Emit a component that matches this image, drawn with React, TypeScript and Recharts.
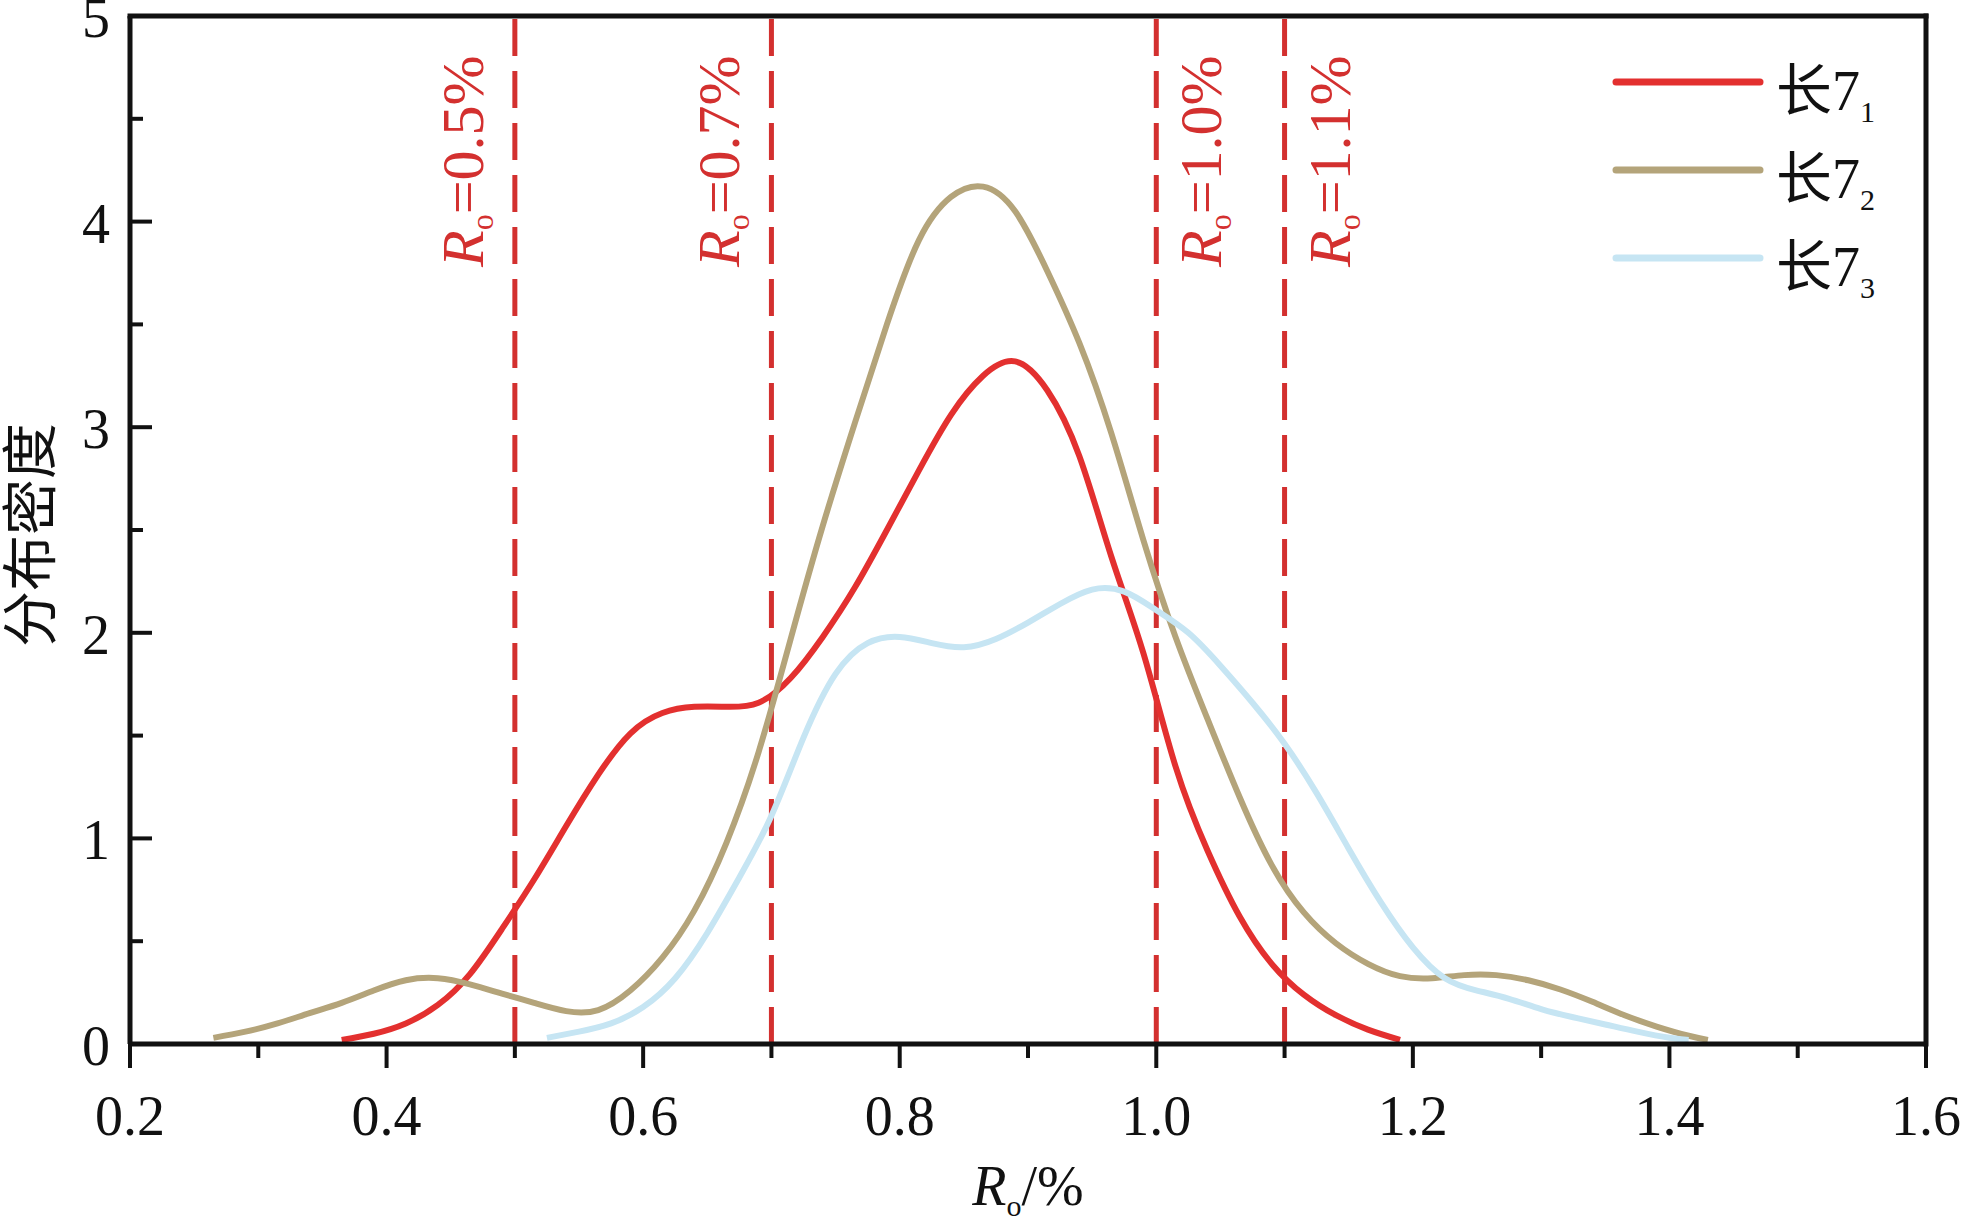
import { Legend, Line, LineChart, ReferenceLine, XAxis, YAxis } from "recharts";

// 长7 sub-member Ro kernel density curves at even Ro steps
const chang71: [number, number][] = [
  [0.365, 0.02], [0.39, 0.05], [0.415, 0.1], [0.44, 0.19], [0.465, 0.34], [0.49, 0.56],
  [0.515, 0.8], [0.54, 1.06], [0.565, 1.31], [0.59, 1.51], [0.615, 1.61], [0.64, 1.64],
  [0.665, 1.64], [0.69, 1.66], [0.715, 1.78], [0.74, 1.98], [0.765, 2.22], [0.79, 2.5],
  [0.815, 2.79], [0.84, 3.06], [0.865, 3.25], [0.89, 3.32], [0.915, 3.18], [0.94, 2.86],
  [0.965, 2.37], [0.99, 1.9], [1.015, 1.35], [1.04, 0.94], [1.065, 0.62], [1.09, 0.39],
  [1.115, 0.24], [1.14, 0.14], [1.165, 0.07], [1.19, 0.02],
];
const chang72: [number, number][] = [
  [0.265, 0.03], [0.29, 0.06], [0.315, 0.1], [0.34, 0.15], [0.365, 0.2], [0.39, 0.26],
  [0.415, 0.31], [0.44, 0.32], [0.465, 0.29], [0.49, 0.245], [0.515, 0.2], [0.54, 0.16],
  [0.565, 0.165], [0.59, 0.26], [0.615, 0.42], [0.64, 0.65], [0.665, 0.98], [0.69, 1.42],
  [0.715, 1.97], [0.74, 2.52], [0.765, 3.02], [0.79, 3.5], [0.815, 3.91], [0.84, 4.12],
  [0.865, 4.17], [0.89, 4.05], [0.915, 3.76], [0.94, 3.41], [0.965, 2.97], [0.99, 2.45],
  [1.015, 1.98], [1.04, 1.58], [1.065, 1.2], [1.09, 0.87], [1.115, 0.64], [1.14, 0.49],
  [1.165, 0.39], [1.19, 0.33], [1.215, 0.32], [1.24, 0.335], [1.265, 0.335], [1.29, 0.31],
  [1.315, 0.265], [1.34, 0.205], [1.365, 0.14], [1.39, 0.085], [1.415, 0.04], [1.43, 0.02],
];
const chang73: [number, number][] = [
  [0.525, 0.03], [0.55, 0.06], [0.575, 0.1], [0.6, 0.18], [0.625, 0.32], [0.65, 0.54],
  [0.675, 0.81], [0.7, 1.11], [0.725, 1.49], [0.75, 1.8], [0.775, 1.95], [0.8, 1.98],
  [0.825, 1.95], [0.85, 1.93], [0.875, 1.97], [0.9, 2.05], [0.925, 2.14], [0.95, 2.21],
  [0.975, 2.2], [1.0, 2.11], [1.025, 2.0], [1.05, 1.84], [1.075, 1.66], [1.1, 1.46],
  [1.125, 1.22], [1.15, 0.95], [1.175, 0.69], [1.2, 0.47], [1.225, 0.32], [1.25, 0.26],
  [1.275, 0.22], [1.3, 0.17], [1.325, 0.13], [1.35, 0.095], [1.375, 0.06], [1.4, 0.03],
  [1.415, 0.02],
];

const seriesMain = ["长7", "长7", "长7"];
const seriesSub = ["1", "2", "3"];
const seriesColors = ["#e3302f", "#b4a47a", "#c6e5f3"];

const xTicks = [0.2, 0.3, 0.4, 0.5, 0.6, 0.7, 0.8, 0.9, 1.0, 1.1, 1.2, 1.3, 1.4, 1.5, 1.6];
const xLabels = ["0.2", "0.4", "0.6", "0.8", "1.0", "1.2", "1.4", "1.6"];
const yTicks = [0, 0.5, 1, 1.5, 2, 2.5, 3, 3.5, 4, 4.5, 5];

const roValues = [0.5, 0.7, 1.0, 1.1];
const roTexts = ["0.5", "0.7", "1.0", "1.1"];
const roSide = [-1, -1, 1, 1];

const SERIF = "'Liberation Serif', 'Times New Roman', 'Noto Sans CJK SC', serif";
const INK = "#111";
const DASH_RED = "#d3302f";

const toPts = (arr: [number, number][]) => arr.map(([x, y]) => ({ x, y }));

function XTick({ x, y, payload }: any) {
  const v = payload.value as number;
  const label = xLabels.find((l) => Math.abs(parseFloat(l) - v) < 1e-6);
  return (
    <g>
      <line x1={x} y1={y} x2={x} y2={y + (label ? 24 : 14)} stroke={INK} strokeWidth={4} />
      {label && (
        <text x={x} y={y + 91} textAnchor="middle" fontFamily={SERIF} fontSize={56} fill={INK}>
          {label}
        </text>
      )}
    </g>
  );
}

function YTick({ x, y, payload }: any) {
  const v = payload.value as number;
  const major = Number.isInteger(v);
  return (
    <g>
      <line x1={x} y1={y} x2={x + (major ? 22 : 13)} y2={y} stroke={INK} strokeWidth={4} />
      {major && (
        <text x={x - 20} y={y + 21} textAnchor="end" fontFamily={SERIF} fontSize={56} fill={INK}>
          {v}
        </text>
      )}
    </g>
  );
}

function roLabel(i: number) {
  return (props: any) => {
    const vb = props.viewBox || {};
    const lx = (vb.x ?? 0) + (roSide[i] < 0 ? -32 : 65);
    const ly = (vb.y ?? 16) + 251;
    return (
      <text x={lx} y={ly} transform={`rotate(-90 ${lx} ${ly})`} fontFamily={SERIF}
            fontSize={60} fill={DASH_RED}>
        <tspan fontStyle="italic">R</tspan>
        <tspan fontSize={32} dy={10}>o</tspan>
        <tspan dy={-10}>{"=" + roTexts[i] + "%"}</tspan>
      </text>
    );
  };
}

function LegendBox({ payload }: any) {
  return (
    <svg width={340} height={300}>
      {(payload || []).map((p: any, i: number) => (
        <g key={i}>
          <line x1={16} x2={160} y1={42 + i * 88} y2={42 + i * 88} stroke={p.color}
                strokeWidth={7} strokeLinecap="round" />
          <text x={176} y={70 + i * 88} fontFamily={SERIF} fontSize={56} fill={INK}>
            {seriesMain[i]}
            <tspan fontSize={30} dy={12}>{seriesSub[i]}</tspan>
          </text>
        </g>
      ))}
    </svg>
  );
}

export default function App() {
  const series = [chang71, chang72, chang73];
  return (
    <div style={{ position: "absolute", left: 0, top: 0, width: 1963, height: 1223, background: "#fff" }}>
      <LineChart width={1963} height={1223} margin={{ top: 16, right: 37, bottom: 79, left: 30 }}>
        <XAxis type="number" dataKey="x" domain={[0.2, 1.6]} ticks={xTicks} interval={0}
               allowDataOverflow height={100} tickSize={0} tickMargin={0} tick={<XTick />}
               axisLine={{ stroke: INK, strokeWidth: 5 }} tickLine={false} />
        <YAxis type="number" domain={[0, 5]} ticks={yTicks} interval={0} allowDataOverflow
               width={100} tickSize={0} tickMargin={0} tick={<YTick />}
               axisLine={{ stroke: INK, strokeWidth: 5 }} tickLine={false} />
        <ReferenceLine y={5} stroke={INK} strokeWidth={5} strokeLinecap="square" />
        <ReferenceLine x={1.6} stroke={INK} strokeWidth={5} strokeLinecap="square" />
        {roValues.map((v, i) => (
          <ReferenceLine key={v} x={v} stroke={DASH_RED} strokeWidth={5}
                         strokeDasharray="37 15" label={roLabel(i)} />
        ))}
        {series.map((s, i) => (
          <Line key={i} data={toPts(s)} dataKey="y" name={seriesMain[i] + seriesSub[i]}
                type="natural" stroke={seriesColors[i]} strokeWidth={6} dot={false}
                activeDot={false} isAnimationActive={false} legendType="line" />
        ))}
        <Legend layout="vertical" align="center" verticalAlign="middle" content={<LegendBox />}
                wrapperStyle={{ left: 1600, top: 40, width: 340, height: 300 }} />
        <text x={1028} y={1205} textAnchor="middle" fontFamily={SERIF} fontSize={56} fill={INK}>
          <tspan fontStyle="italic">R</tspan>
          <tspan fontSize={30} dy={11}>o</tspan>
          <tspan dy={-11}>/%</tspan>
        </text>
        <text x={50} y={535} transform="rotate(-90 50 535)" textAnchor="middle"
              fontFamily={SERIF} fontSize={56} fill={INK}>
          分布密度
        </text>
      </LineChart>
    </div>
  );
}
